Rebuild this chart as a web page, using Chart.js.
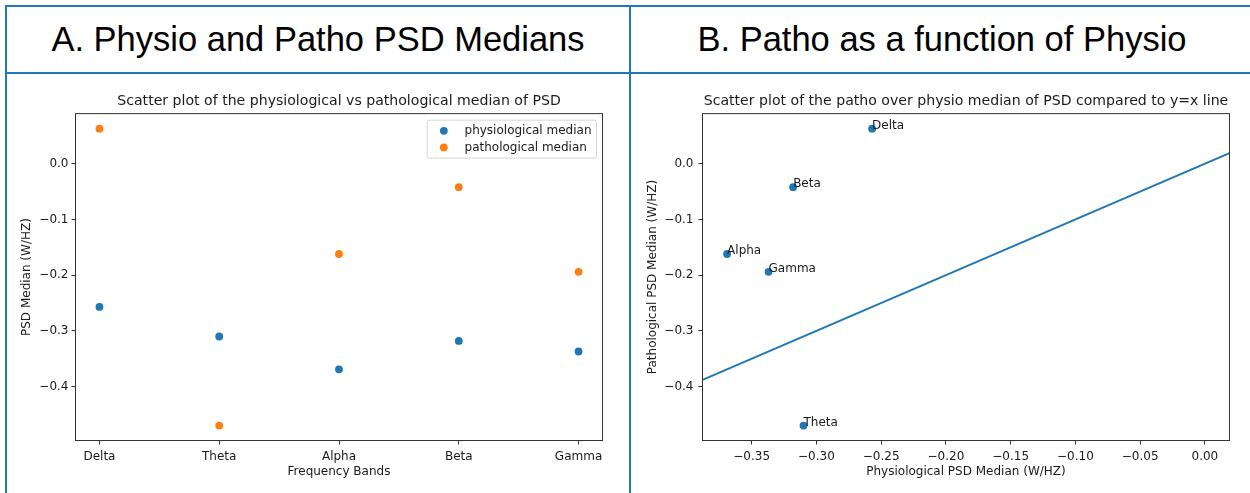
<!DOCTYPE html>
<html>
<head>
<meta charset="utf-8">
<script src="https://cdn.jsdelivr.net/npm/chart.js@4.4.0/dist/chart.umd.min.js"></script>
<style>
  html, body { margin: 0; padding: 0; background: #fff; }
  body { width: 1250px; height: 493px; position: relative; overflow: hidden; }
  .rule { position: absolute; background: #1f78be; z-index: 2; }
  .head {
    position: absolute; top: 19px; height: 40px; line-height: 40px;
    text-align: center; font-family: "Liberation Sans", Arial, sans-serif;
    font-size: 34.5px; color: #000; white-space: nowrap;
  }
  canvas { position: absolute; }
</style>
</head>
<body>
<div class="rule" style="left:5px; top:5px; width:1245px; height:2px;"></div>
<div class="rule" style="left:5px; top:72px; width:1245px; height:2px;"></div>
<div class="rule" style="left:5px; top:5px; width:2px; height:488px;"></div>
<div class="rule" style="left:629px; top:5px; width:2px; height:488px;"></div>

<div class="head" style="left:7px; width:622px;">A. Physio and Patho PSD Medians</div>
<div class="head" style="left:631px; width:622px;">B. Patho as a function of Physio</div>

<canvas id="chartA" width="629" height="419" style="left:0; top:74px;"></canvas>
<canvas id="chartB" width="619" height="419" style="left:631px; top:74px;"></canvas>

<script>
const bands = ["Delta", "Theta", "Alpha", "Beta", "Gamma"];
const physioMedian = [-0.257, -0.310, -0.369, -0.318, -0.337];
const pathoMedian = [0.063, -0.470, -0.162, -0.042, -0.194];

const yTicks = [0.0, -0.1, -0.2, -0.3, -0.4];
const bandTicks = [0, 1, 2, 3, 4];
const xTicksB = [-0.35, -0.30, -0.25, -0.20, -0.15, -0.10, -0.05, 0.00];

const yLimits = [-0.4967, 0.0900];
const xLimitsA = [-0.2, 4.2];
const xLimitsB = [-0.388, 0.019];
// ends of the y = x reference line
const identityEnds = [-0.388, 0.019];

const BLUE = "#1f77b4";
const ORANGE = "#ff7f0e";
const INK = "#1a1a1a";
const FONT = "DejaVu Sans";
const SIZE = 12;
const DOT = 3.9;

Chart.defaults.font.family = FONT;
Chart.defaults.color = INK;

function minus(str) {
  return str.replace("-", "\u2212");
}

// box around the whole plot area, like matplotlib spines
const frame = {
  id: "frame",
  afterDraw(chart) {
    const { ctx, chartArea: a } = chart;
    ctx.save();
    ctx.strokeStyle = "#333";
    ctx.lineWidth = 1;
    ctx.strokeRect(a.left, a.top, a.right - a.left, a.bottom - a.top);
    ctx.restore();
  }
};

const insideLegend = {
  id: "insideLegend",
  afterDraw(chart) {
    const { ctx, chartArea: a } = chart;
    const sets = chart.data.datasets;
    ctx.save();
    ctx.font = `${SIZE}px "${FONT}"`;
    const textW = Math.max(...sets.map(d => ctx.measureText(d.label).width));
    const w = 37.4 + textW + 5;
    const h = 38;
    const x = a.right - 6 - w;
    const y = a.top + 6.5;
    ctx.fillStyle = "rgba(255,255,255,0.8)";
    ctx.strokeStyle = "#d4d4d4";
    ctx.lineWidth = 1;
    ctx.beginPath();
    ctx.roundRect(x, y, w, h, 2.5);
    ctx.fill();
    ctx.stroke();
    sets.forEach((d, i) => {
      const cy = y + 10.7 + i * 16.6;
      ctx.fillStyle = d.backgroundColor;
      ctx.beginPath();
      ctx.arc(x + 16.7, cy, DOT, 0, Math.PI * 2);
      ctx.fill();
      ctx.fillStyle = INK;
      ctx.textBaseline = "middle";
      ctx.textAlign = "left";
      ctx.fillText(d.label, x + 37.4, cy);
    });
    ctx.restore();
  }
};

// band names written next to each scatter point
const pointNames = {
  id: "pointNames",
  afterDatasetsDraw(chart) {
    const { ctx } = chart;
    const meta = chart.getDatasetMeta(0);
    ctx.save();
    ctx.font = `${SIZE}px "${FONT}"`;
    ctx.fillStyle = INK;
    ctx.textAlign = "left";
    ctx.textBaseline = "alphabetic";
    meta.data.forEach((pt, i) => ctx.fillText(bands[i], pt.x, pt.y));
    ctx.restore();
  }
};

function tickGrid() {
  return { display: true, drawOnChartArea: false, drawTicks: true, tickLength: 4, color: "#333" };
}

function yScale(width, titleText, titlePad, labelPad) {
  return {
    type: "linear",
    min: yLimits[0],
    max: yLimits[1],
    afterBuildTicks: s => { s.ticks = yTicks.map(v => ({ value: v })); },
    afterFit: s => { s.width = width; },
    grid: tickGrid(),
    border: { display: false },
    ticks: {
      padding: labelPad,
      font: { size: SIZE },
      color: INK,
      callback: v => minus(Number(v).toFixed(1))
    },
    title: {
      display: true,
      text: titleText,
      font: { size: SIZE },
      color: INK,
      padding: { top: titlePad, bottom: 0 }
    }
  };
}

function xTitle(text) {
  return {
    display: true,
    text: text,
    font: { size: SIZE },
    color: INK,
    padding: { top: 0, bottom: 13.8 }
  };
}

const chartA = new Chart(document.getElementById("chartA"), {
  type: "scatter",
  data: {
    datasets: [
      {
        label: "physiological median",
        data: bands.map((_, i) => ({ x: i, y: physioMedian[i] })),
        backgroundColor: BLUE,
        borderWidth: 0,
        pointRadius: DOT
      },
      {
        label: "pathological median",
        data: bands.map((_, i) => ({ x: i, y: pathoMedian[i] })),
        backgroundColor: ORANGE,
        borderWidth: 0,
        pointRadius: DOT
      }
    ]
  },
  options: {
    responsive: false,
    animation: false,
    devicePixelRatio: 1,
    layout: { padding: { left: 0, right: 26.5, top: 0, bottom: 0 } },
    plugins: {
      legend: { display: false },
      tooltip: { enabled: false },
      title: {
        display: true,
        fullSize: false,
        text: "Scatter plot of the physiological vs pathological median of PSD",
        font: { size: 14.1, weight: "normal" },
        color: INK,
        padding: { top: 18.6, bottom: 4.1 }
      }
    },
    scales: {
      x: {
        type: "linear",
        min: xLimitsA[0],
        max: xLimitsA[1],
        afterBuildTicks: s => { s.ticks = bandTicks.map(v => ({ value: v })); },
        afterFit: s => { s.height = 52.5; },
        grid: tickGrid(),
        border: { display: false },
        ticks: {
          padding: 5,
          font: { size: SIZE },
          color: INK,
          maxRotation: 0,
          callback: v => bands[v]
        },
        title: xTitle("Frequency Bands")
      },
      y: yScale(75.5, "PSD Median (W/HZ)", 19.5, 3)
    }
  },
  plugins: [frame, insideLegend]
});

const chartB = new Chart(document.getElementById("chartB"), {
  type: "scatter",
  data: {
    datasets: [
      {
        label: "bands",
        data: bands.map((_, i) => ({ x: physioMedian[i], y: pathoMedian[i] })),
        backgroundColor: BLUE,
        borderWidth: 0,
        pointRadius: DOT
      },
      {
        type: "line",
        label: "y=x",
        data: identityEnds.map(v => ({ x: v, y: v })),
        borderColor: BLUE,
        borderWidth: 2,
        pointRadius: 0,
        fill: false
      }
    ]
  },
  options: {
    responsive: false,
    animation: false,
    devicePixelRatio: 1,
    layout: { padding: { left: 0, right: 20.5, top: 0, bottom: 0 } },
    plugins: {
      legend: { display: false },
      tooltip: { enabled: false },
      title: {
        display: true,
        fullSize: false,
        text: "Scatter plot of the patho over physio median of PSD compared to y=x line",
        font: { size: 14.1, weight: "normal" },
        color: INK,
        padding: { top: 18.6, bottom: 4.1 }
      }
    },
    scales: {
      x: {
        type: "linear",
        min: xLimitsB[0],
        max: xLimitsB[1],
        afterBuildTicks: s => { s.ticks = xTicksB.map(v => ({ value: v })); },
        afterFit: s => { s.height = 52.5; },
        grid: tickGrid(),
        border: { display: false },
        ticks: {
          padding: 5,
          font: { size: SIZE },
          color: INK,
          maxRotation: 0,
          callback: v => minus(Number(v).toFixed(2))
        },
        title: xTitle("Physiological PSD Median (W/HZ)")
      },
      y: yScale(71.5, "Pathological PSD Median (W/HZ)", 15.1, 5)
    }
  },
  plugins: [frame, pointNames]
});
</script>
</body>
</html>
